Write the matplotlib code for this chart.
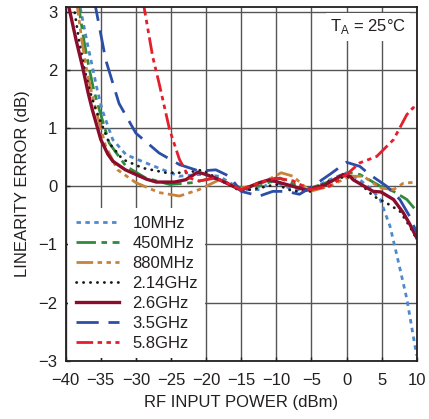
import numpy as np
import matplotlib
matplotlib.use("Agg")
import matplotlib.pyplot as plt

plt.rcParams['font.family'] = ['Liberation Sans', 'DejaVu Sans']
plt.rcParams['mathtext.fontset'] = 'custom'
plt.rcParams['mathtext.rm'] = 'Liberation Sans'

# curves (x = RF input power dBm, y = linearity error dB)
x_10m = [-38.4, -37.9, -37.0, -36.2, -35.5, -34.8, -33.3, -31.4, -28.6, -25.7, -23.8, -21.0, -18.1, -15.0,
         -12.4, -10.5, -7.6, -5.2, -2.4, 0.0, 1.9, 3.5, 4.8, 6.2, 7.2, 8.6, 9.5, 10.0]
y_10m = [3.3, 3.05, 2.5, 2.05, 1.65, 1.31, 0.8, 0.54, 0.4, 0.26, 0.17, 0.2, 0.17, -0.06,
         -0.06, 0.09, -0.06, -0.06, 0.11, 0.23, 0.11, -0.05, -0.23, -0.69, -1.2, -1.94, -2.57, -2.91]

x_450m = [-38.5, -38.1, -37.4, -36.7, -36.0, -35.2, -33.8, -31.4, -28.6, -25.2, -21.9, -19.0, -15.0,
          -12.4, -9.5, -5.7, -2.9, 0.5, 1.9, 4.8, 6.7, 8.6, 10.0]
y_450m = [3.3, 3.05, 2.5, 2.05, 1.65, 1.31, 0.74, 0.34, 0.14, 0.03, 0.06, 0.14, -0.03,
          0.0, 0.14, -0.06, 0.06, 0.23, 0.2, 0.0, -0.09, -0.23, -0.43]

x_880m = [-38.7, -38.3, -37.7, -37.1, -36.4, -35.7, -34.3, -32.6, -30.0, -26.7, -23.8, -21.0, -18.1,
          -15.0, -12.4, -9.3, -7.6, -5.2, -2.4, 0.5, 2.4, 4.8, 6.7, 8.1, 10.0]
y_880m = [3.3, 3.05, 2.5, 2.05, 1.65, 1.31, 0.68, 0.28, 0.06, -0.11, -0.17, -0.06, 0.11,
          -0.03, 0.03, 0.23, 0.17, -0.09, 0.0, 0.17, 0.17, -0.03, -0.06, 0.05, 0.07]

x_214g = [-39.2, -38.8, -38.1, -37.4, -36.6, -35.7, -33.8, -31.9, -29.0, -25.7, -22.9, -20.5, -18.1,
          -15.0, -12.4, -10.0, -7.6, -5.2, -2.4, 0.0, 1.9, 3.8, 5.7, 7.6, 9.0, 10.0]
y_214g = [3.3, 3.05, 2.5, 2.05, 1.65, 1.31, 0.74, 0.46, 0.31, 0.23, 0.23, 0.28, 0.11,
          -0.09, -0.03, 0.03, -0.09, -0.09, 0.09, 0.17, 0.05, -0.17, -0.29, -0.43, -0.69, -0.91]

x_26g = [-39.9, -39.5, -38.5, -37.6, -36.8, -36.2, -35.0, -34.0, -33.3, -31.5, -30.0, -28.5, -27.1,
         -24.5, -22.9, -21.2, -20.0, -18.1, -15.0, -12.4, -11.0, -8.6, -5.7, -2.9, -0.5, 0.5,
         0.95, 2.5, 3.8, 4.9, 6.7, 8.1, 9.0, 10.0]
y_26g = [3.3, 3.05, 2.5, 2.05, 1.6, 1.31, 0.8, 0.55, 0.43, 0.28, 0.2, 0.12, 0.07,
         0.07, 0.11, 0.24, 0.2, 0.11, -0.07, 0.06, 0.11, 0.03, -0.07, 0.03, 0.2, 0.17,
         0.11, 0.0, -0.09, -0.1, -0.23, -0.46, -0.65, -0.89]

x_35g = [-36.1, -35.7, -34.3, -32.4, -30.0, -26.7, -23.8, -21.0, -18.6, -16.7, -15.0, -12.4, -10.5,
         -8.6, -6.7, -4.8, -2.4, 0.0, 1.9, 3.3, 5.7, 7.6, 9.0, 10.0]
y_35g = [3.3, 3.05, 2.17, 1.42, 0.91, 0.57, 0.37, 0.26, 0.28, 0.17, -0.09, -0.17, -0.09,
         -0.09, -0.14, 0.0, 0.2, 0.41, 0.34, 0.2, 0.0, -0.23, -0.52, -0.8]

x_58g = [-29.1, -28.8, -27.6, -26.7, -25.2, -23.8, -22.4, -21.0, -18.6, -15.0, -12.4, -10.0, -7.6,
         -5.2, -2.4, 0.0, 1.9, 4.3, 6.7, 8.6, 9.5, 10.0]
y_58g = [3.3, 3.05, 2.22, 1.77, 0.97, 0.46, 0.14, 0.09, 0.14, -0.06, 0.06, 0.14, 0.09,
         -0.06, 0.0, 0.2, 0.4, 0.51, 0.8, 1.23, 1.35, 1.32]

labels = ['10MHz', '450MHz', '880MHz', '2.14GHz', '2.6GHz', '3.5GHz', '5.8GHz']

fig = plt.figure(figsize=(4.29, 4.19), dpi=100)
ax = fig.add_axes([65.7 / 429, 1 - 360.7 / 419, 351 / 429, 353.2 / 419])

lw = 2.0
ax.plot(x_10m, y_10m, color='#4f89cc', lw=lw, ls=(0, (1.6, 1.6)), label=labels[0])
ax.plot(x_450m, y_450m, color='#2f8a3c', lw=lw, ls=(0, (7, 2, 2, 2)), label=labels[1])
ax.plot(x_880m, y_880m, color='#c8823a', lw=lw, ls=(0, (6, 1.6, 1.6, 1.6, 1.6, 1.6)), label=labels[2])
ax.plot(x_214g, y_214g, color='#1a1a1a', lw=lw, ls=(0, (0.1, 2.4)), dash_capstyle='round', label=labels[3])
ax.plot(x_26g, y_26g, color='#8c0c2c', lw=lw + 0.4, ls='-', label=labels[4])
ax.plot(x_35g, y_35g, color='#2b4ea6', lw=lw, ls=(0, (8, 3.5)), label=labels[5])
ax.plot(x_58g, y_58g, color='#e41e2a', lw=lw, ls=(0, (6, 1.6, 1.6, 1.6, 1.6, 1.6)), label=labels[6])

ax.set_xlim(-40, 10)
ax.set_ylim(-3, 3.07)
ax.set_xticks(np.arange(-40, 11, 5))
ax.set_yticks(np.arange(-3, 4, 1))
ax.set_xticklabels(['\u221240', '\u221235', '\u221230', '\u221225', '\u221220', '\u221215',
                    '\u221210', '\u22125', '0', '5', '10'])
ax.set_yticklabels(['\u22123', '\u22122', '\u22121', '0', '1', '2', '3'])
ax.grid(True, color='#555555', lw=1.0)
ax.set_axisbelow(True)
ax.tick_params(direction='in', length=3, width=1, labelsize=12, colors='#231f20')
ax.tick_params(axis='x', pad=9)
ax.tick_params(axis='y', pad=6)
for s in ax.spines.values():
    s.set_linewidth(1.3)
    s.set_color('#231f20')

ax.set_xlabel('RF INPUT POWER (dBm)', fontsize=12, color='#231f20', labelpad=5)
ax.set_ylabel('LINEARITY ERROR (dB)', fontsize=12, color='#231f20', labelpad=6)

ax.text(0.97, 0.945, r'T$_\mathregular{A}$ = 25°C', transform=ax.transAxes, ha='right', va='center',
        fontsize=12, color='#231f20',
        bbox=dict(facecolor='white', edgecolor='none', pad=3))

leg = ax.legend(loc='lower left', bbox_to_anchor=(0.0, 0.0), fontsize=12, handlelength=2.6,
                handletextpad=0.8, labelspacing=0.3, borderaxespad=0.15, borderpad=0.45,
                frameon=True, fancybox=False, framealpha=1, edgecolor='none', facecolor='white')
for t in leg.get_texts():
    t.set_color('#231f20')

fig.savefig('out.png', dpi=100)
